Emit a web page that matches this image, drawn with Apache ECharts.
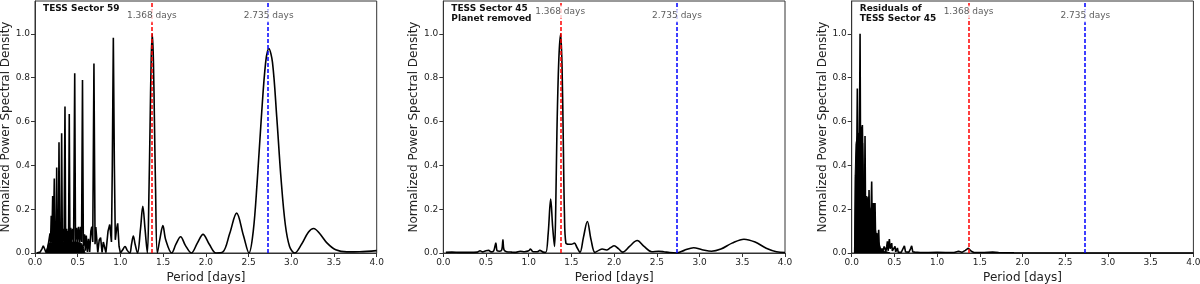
<!DOCTYPE html>
<html><head><meta charset="utf-8">
<script src="https://cdn.jsdelivr.net/npm/echarts@6/dist/echarts.min.js"></script>
<style>html,body{margin:0;padding:0;background:#fff}#c{width:1200px;height:284px}</style>
</head><body><div id="c"></div>
<script>
// ---------- Data (period [days], normalized PSD) ----------
const panelTitles = ['TESS Sector 59', 'TESS Sector 45\nPlanet removed', 'Residuals of\nTESS Sector 45'];
const markPeriods = [1.368, 2.735];
const markLabels = ['1.368 days', '2.735 days'];

// Panel 1: TESS Sector 59
const s59Band = [[0.13,0],[0.145,0.02],[0.16,0.045],[0.18,0.05],[0.22,0.052],[0.3,0.05],[0.4,0.05],[0.5,0.05],[0.54,0.045],[0.565,0.03],[0.585,0]];
const s59Short = [[0.02,0],[0.06,0.004],[0.08,0.018],[0.097,0.033],[0.113,0.018],[0.128,0.003],[0.145,0.02],[0.16,0.05],[0.168,0.07],[0.176,0.09],[0.182,0.05],[0.19,0.17],[0.197,0.05],[0.207,0.26],[0.214,0.05],[0.226,0.34],[0.233,0.05],[0.242,0.1],[0.248,0.05],[0.254,0.39],[0.26,0.05],[0.268,0.1],[0.274,0.05],[0.281,0.505],[0.288,0.05],[0.297,0.11],[0.304,0.05],[0.312,0.546],[0.32,0.05],[0.33,0.11],[0.34,0.05],[0.351,0.668],[0.359,0.05],[0.37,0.11],[0.378,0.05],[0.387,0.1],[0.393,0.05],[0.401,0.634],[0.409,0.05],[0.418,0.115],[0.428,0.05],[0.44,0.11],[0.452,0.05],[0.465,0.82],[0.474,0.05],[0.487,0.115],[0.498,0.05],[0.51,0.12],[0.522,0.05],[0.534,0.12],[0.545,0.05],[0.556,0.79],[0.566,0.03],[0.58,0.085],[0.59,0.01],[0.6,0.08],[0.614,0.005],[0.626,0.065],[0.64,0.005],[0.654,0.1],[0.665,0.12],[0.676,0.05],[0.69,0.865],[0.703,0.04],[0.712,0.118],[0.72,0.11],[0.735,0.003],[0.752,0.06],[0.768,0.07],[0.785,0.003],[0.8,0.05],[0.815,0.058],[0.83,0.002],[0.855,0.1],[0.875,0.13],[0.895,0.05],[0.905,0.4],[0.917,0.982],[0.929,0.4],[0.94,0.06],[0.955,0.11],[0.968,0.135],[0.984,0.03],[1.0,0.0]];
const s59Long = [[1.0,0],[1.027,0.015],[1.054,0.03],[1.08,0.012],[1.11,0],[1.13,0.04],[1.151,0.077],[1.172,0.04],[1.2,0],[1.235,0.11],[1.262,0.213],[1.288,0.11],[1.315,0],[1.335,0.3],[1.347,0.58],[1.36,0.88],[1.373,1.0],[1.386,0.88],[1.399,0.58],[1.411,0.3],[1.432,0],[1.465,0.07],[1.497,0.125],[1.53,0.06],[1.6,0],[1.65,0.04],[1.705,0.074],[1.76,0.035],[1.83,0],[1.9,0.045],[1.967,0.085],[2.04,0.04],[2.12,0],[2.2,0.005],[2.28,0.09],[2.36,0.182],[2.44,0.08],[2.505,0],[2.555,0.1],[2.6,0.32],[2.65,0.62],[2.7,0.87],[2.737,0.933],[2.78,0.87],[2.83,0.62],[2.88,0.34],[2.93,0.13],[2.98,0.03],[3.04,0],[3.12,0.04],[3.2,0.095],[3.262,0.112],[3.33,0.09],[3.42,0.045],[3.52,0.015],[3.65,0.005],[3.8,0.006],[4.0,0.011]];

// Panel 2: TESS Sector 45, planet removed
const s45 = [[0.03,0.003],[0.1,0.004],[0.2,0.003],[0.3,0.003],[0.4,0.004],[0.43,0.01],[0.46,0.005],[0.5,0.01],[0.53,0.012],[0.56,0.005],[0.59,0.01],[0.615,0.045],[0.63,0.01],[0.66,0.008],[0.685,0.015],[0.698,0.06],[0.71,0.015],[0.74,0.006],[0.8,0.004],[0.85,0.003],[0.9,0.008],[0.95,0.006],[1.0,0.01],[1.02,0.018],[1.05,0.006],[1.1,0.006],[1.13,0.012],[1.17,0.004],[1.2,0.003],[1.228,0.09],[1.257,0.246],[1.28,0.12],[1.302,0.03],[1.316,0.2],[1.33,0.55],[1.352,0.88],[1.374,1.0],[1.39,0.85],[1.405,0.5],[1.418,0.18],[1.435,0.045],[1.47,0.04],[1.5,0.04],[1.535,0.045],[1.565,0.025],[1.6,0.003],[1.64,0.07],[1.686,0.144],[1.73,0.06],[1.775,0.003],[1.82,0.012],[1.86,0.018],[1.91,0.014],[1.96,0.025],[2.0,0.033],[2.05,0.02],[2.1,0.004],[2.18,0.03],[2.27,0.057],[2.35,0.03],[2.44,0.006],[2.52,0.008],[2.58,0.006],[2.65,0.002],[2.73,0.0],[2.82,0.012],[2.93,0.024],[3.03,0.015],[3.14,0.008],[3.25,0.018],[3.38,0.045],[3.52,0.063],[3.65,0.05],[3.78,0.022],[3.9,0.006],[4.0,0.002]];

// Panel 3: residuals of TESS Sector 45
const r45Band = [[0.035,0],[0.04,0.35],[0.05,0.5],[0.07,0.54],[0.09,0.55],[0.11,0.55],[0.13,0.5],[0.137,0.3],[0.15,0.25],[0.17,0.26],[0.19,0.24],[0.21,0.21],[0.23,0.19],[0.25,0.16],[0.27,0.13],[0.285,0.09],[0.3,0.065],[0.32,0.045],[0.335,0.025],[0.35,0.012],[0.38,0.008],[0.42,0.004],[0.45,0]];
const r45 = [[0.035,0],[0.042,0.2],[0.047,0.357],[0.052,0.2],[0.058,0.4],[0.066,0.751],[0.071,0.45],[0.078,0.54],[0.085,0.45],[0.09,0.5],[0.098,1.0],[0.103,0.5],[0.109,0.577],[0.115,0.45],[0.12,0.5],[0.125,0.584],[0.13,0.45],[0.135,0.3],[0.14,0.15],[0.145,0.25],[0.15,0.2],[0.156,0.534],[0.162,0.2],[0.17,0.15],[0.176,0.243],[0.182,0.15],[0.191,0.258],[0.197,0.15],[0.203,0.288],[0.209,0.12],[0.215,0.144],[0.222,0.1],[0.234,0.326],[0.24,0.12],[0.247,0.15],[0.254,0.228],[0.26,0.1],[0.266,0.15],[0.273,0.228],[0.28,0.06],[0.287,0.07],[0.293,0.091],[0.3,0.04],[0.308,0.05],[0.316,0.106],[0.322,0.03],[0.332,0.038],[0.34,0.01],[0.355,0.02],[0.365,0.008],[0.38,0.03],[0.39,0.038],[0.4,0.008],[0.41,0.03],[0.418,0.053],[0.426,0.01],[0.434,0.04],[0.441,0.064],[0.45,0.02],[0.46,0.03],[0.468,0.045],[0.476,0.01],[0.49,0.015],[0.507,0.03],[0.515,0.005],[0.525,0.01],[0.535,0.023],[0.545,0.003],[0.56,0.005],[0.58,0.003],[0.6,0.008],[0.617,0.033],[0.63,0.005],[0.65,0.006],[0.67,0.004],[0.69,0.02],[0.702,0.033],[0.715,0.005],[0.74,0.004],[0.8,0.002],[0.9,0.002],[1.0,0.003],[1.1,0.002],[1.2,0.002],[1.25,0.008],[1.29,0.003],[1.33,0.012],[1.366,0.022],[1.4,0.008],[1.43,0.002],[1.55,0.002],[1.65,0.004],[1.72,0.002],[1.9,0.001],[2.5,0.0],[4.0,0.0]];

// ---------- Chart ----------
const FONT = 'DejaVu Sans';
const AX = '#333';
const lefts = [35, 443.3, 851.7];
const labelY = [[1.083, 1.083], [1.10, 1.083], [1.10, 1.083]];

const grids = lefts.map(l => ({left: l, top: 1, width: 341.7, height: 252, show: true, borderColor: AX, borderWidth: 1,
  backgroundColor: 'transparent', containLabel: false, outerBoundsMode: 'none'}));
const xAxes = lefts.map((l, i) => ({
  gridIndex: i, type: 'value', min: 0, max: 4, interval: 0.5,
  name: 'Period [days]', nameLocation: 'middle', nameGap: 18,
  nameTextStyle: {fontFamily: FONT, fontSize: 12, color: '#222'},
  axisLine: {show: true, lineStyle: {color: AX, width: 1}},
  axisTick: {show: true, inside: false, length: 4, lineStyle: {color: AX}},
  axisLabel: {fontFamily: FONT, fontSize: 9, color: '#222', margin: 5, formatter: v => v.toFixed(1)},
  splitLine: {show: false}
}));
const yAxes = lefts.map((l, i) => ({
  gridIndex: i, type: 'value', min: 0, max: 1.15, interval: 0.2,
  name: 'Normalized Power Spectral Density', nameLocation: 'middle', nameGap: 21,
  nameTextStyle: {fontFamily: FONT, fontSize: 12, color: '#222'},
  axisLine: {show: true, lineStyle: {color: AX, width: 1}},
  axisTick: {show: true, inside: false, length: 4, lineStyle: {color: AX}},
  axisLabel: {fontFamily: FONT, fontSize: 9, color: '#222', margin: 5, showMaxLabel: false,
    formatter: v => (Math.abs(v / 0.2 - Math.round(v / 0.2)) < 1e-6 ? v.toFixed(1) : '')},
  splitLine: {show: false}
}));

const curve = (data, i, smooth) => ({
  type: 'line', xAxisIndex: i, yAxisIndex: i, data: data, smooth: smooth,
  symbol: 'none', animation: false, z: 2,
  lineStyle: {color: '#000', width: 1.6}
});
const band = (data, i) => ({
  type: 'line', xAxisIndex: i, yAxisIndex: i, data: data, symbol: 'none', animation: false, z: 2,
  lineStyle: {color: '#000', width: 1}, areaStyle: {color: '#000', opacity: 1}
});
const vlines = i => ({
  type: 'line', xAxisIndex: i, yAxisIndex: i, data: [], z: 3, animation: false,
  markLine: {
    silent: true, symbol: ['none', 'none'], animation: false, label: {show: false},
    data: [
      {xAxis: markPeriods[0], lineStyle: {color: '#ff0000', width: 1.5, type: [4, 2]}},
      {xAxis: markPeriods[1], lineStyle: {color: '#0000ff', width: 1.5, type: [4, 2]}}
    ]
  }
});
const labels = i => ({
  type: 'scatter', xAxisIndex: i, yAxisIndex: i, z: 5, animation: false, silent: true,
  symbol: 'rect', symbolSize: 1, itemStyle: {color: 'rgba(0,0,0,0)'},
  data: markPeriods.map((p, k) => ({name: markLabels[k], value: [p, labelY[i][k]]})),
  label: {show: true, position: 'inside', formatter: '{b}', backgroundColor: '#fff', padding: [2, 2],
    color: '#333', fontSize: 9, fontFamily: FONT}
});

const titles = panelTitles.map((t, i) => ({
  text: t, left: lefts[i] + 8, top: 4, padding: 0,
  textStyle: {fontFamily: FONT, fontSize: 9, fontWeight: 'bold', color: '#111', lineHeight: 10}
}));

const series = [
  band(s59Band, 0), curve(s59Short, 0, false), curve(s59Long, 0, 0.35), vlines(0), labels(0),
  curve(s45, 1, 0.35), vlines(1), labels(1),
  band(r45Band, 2), curve(r45, 2, false), vlines(2), labels(2)
];

const chart = echarts.init(document.getElementById('c'), null, {renderer: 'canvas'});
chart.setOption({
  animation: false, backgroundColor: '#fff',
  title: titles, grid: grids, xAxis: xAxes, yAxis: yAxes, series: series
});
</script></body></html>
